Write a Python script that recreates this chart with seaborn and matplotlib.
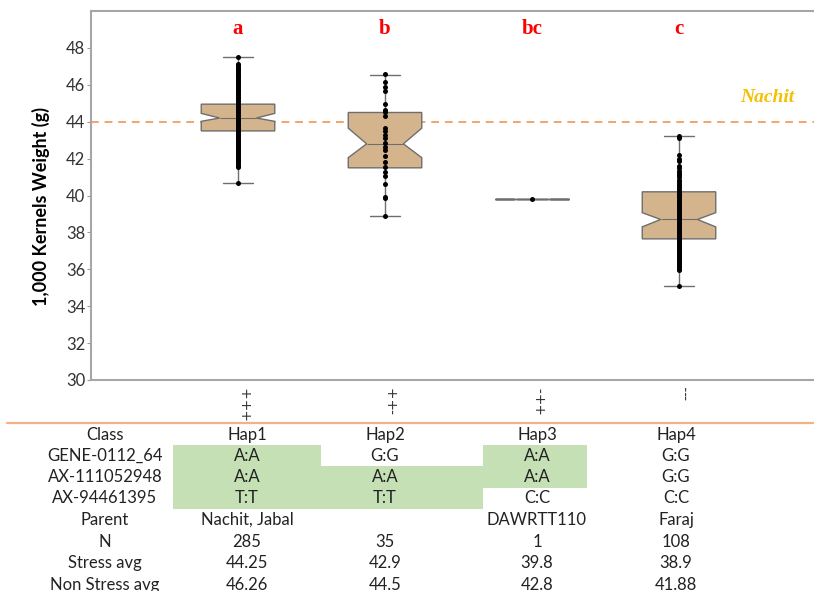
import numpy as np
import pandas as pd
import matplotlib.pyplot as plt
import matplotlib.transforms as mtransforms
from matplotlib.patches import Rectangle
import seaborn as sns

haps = ["Hap1", "Hap2", "Hap3", "Hap4"]
marker_codes = ["+++", "-++", "++-", "---"]
letters = ["a", "b", "bc", "c"]
nachit_ref = 44.0

# box stats
q1 = [43.5, 41.5, 39.8, 37.65]
med = [44.2, 42.8, 39.8, 38.7]
q3 = [44.95, 44.5, 39.8, 40.2]
whislo = [40.7, 38.9, 39.8, 35.1]
whishi = [47.5, 46.55, 39.8, 43.2]
ci_lo = [44.02, 42.05, 39.8, 38.3]
ci_hi = [44.45, 43.65, 39.8, 39.07]

# individual lines (dots)
hap1_pts = [40.68, 41.52, 41.6, 41.68, 41.77, 41.85, 41.93, 42.0, 42.1, 42.18, 42.26,
            42.35, 42.43, 42.5, 42.6, 42.68, 42.75, 42.85, 42.93, 43.0, 43.1, 43.18,
            43.26, 43.35, 43.42, 43.5, 43.58, 43.66, 43.75, 43.83, 43.9, 44.0, 44.08,
            44.15, 44.22, 44.3, 44.38, 44.45, 44.55, 44.62, 44.7, 44.78, 44.86, 44.95,
            45.02, 45.1, 45.2, 45.28, 45.36, 45.45, 45.52, 45.6, 45.7, 45.78, 45.86,
            45.95, 46.03, 46.12, 46.2, 46.28, 46.36, 46.45, 46.52, 46.6, 46.7, 46.78,
            46.86, 46.95, 47.05, 47.12, 47.53]
hap2_pts = [46.56, 46.14, 45.87, 45.69, 44.97, 44.64, 44.5, 44.32, 43.65, 43.47, 43.29,
            43.11, 42.84, 42.65, 42.44, 42.15, 41.84, 41.57, 41.3, 41.03, 40.63, 39.94,
            39.85, 38.91]
hap3_pts = [39.8]
hap4_pts = [35.1, 35.95, 36.03, 36.1, 36.2, 36.28, 36.36, 36.45, 36.52, 36.6, 36.7,
            36.78, 36.85, 36.95, 37.03, 37.1, 37.2, 37.28, 37.35, 37.45, 37.52, 37.6,
            37.7, 37.78, 37.85, 37.95, 38.03, 38.1, 38.2, 38.28, 38.36, 38.45, 38.52,
            38.6, 38.7, 38.78, 38.85, 38.95, 39.03, 39.1, 39.2, 39.28, 39.36, 39.45,
            39.52, 39.6, 39.7, 39.78, 39.85, 39.95, 40.03, 40.1, 40.2, 40.3, 40.4, 40.5,
            40.62, 40.75, 40.85, 41.0, 41.1, 41.2, 41.35, 41.5, 41.62, 41.85, 42.0,
            42.2, 43.1, 43.23]

# table below the plot
row_labels = ["Class", "GENE-0112_64", "AX-111052948", "AX-94461395",
              "Parent", "N", "Stress avg", "Non Stress avg"]
gene_0112 = ["A:A", "G:G", "A:A", "G:G"]
ax_111052948 = ["A:A", "A:A", "A:A", "G:G"]
ax_94461395 = ["T:T", "T:T", "C:C", "C:C"]
parents = ["Nachit, Jabal", "", "DAWRTT110", "Faraj"]
n_lines = ["285", "35", "1", "108"]
stress_avg = ["44.25", "42.9", "39.8", "38.9"]
nonstress_avg = ["46.26", "44.5", "42.8", "41.88"]

sns.set_style("white")
plt.rcParams['font.family'] = ['Lato', 'DejaVu Sans']

df = pd.DataFrame({
    "hap": ["Hap1"] * len(hap1_pts) + ["Hap2"] * len(hap2_pts)
           + ["Hap3"] * len(hap3_pts) + ["Hap4"] * len(hap4_pts),
    "kw": hap1_pts + hap2_pts + hap3_pts + hap4_pts,
})

W, H = 814, 591
fig = plt.figure(figsize=(W / 100, H / 100), dpi=100)

# overlay axes in pixel coords for the table
tab = fig.add_axes([0, 0, 1, 1])
tab.set_xlim(0, W)
tab.set_ylim(H, 0)
tab.axis("off")

ax = fig.add_axes([91 / W, 1 - 380 / H, (W - 91) / W, (380 - 11) / H])

stats = []
for i in range(4):
    stats.append(dict(med=med[i], q1=q1[i], q3=q3[i], whislo=whislo[i],
                      whishi=whishi[i], cilo=ci_lo[i], cihi=ci_hi[i], fliers=[]))
ax.bxp(stats, positions=range(4), widths=0.5, shownotches=True, patch_artist=True,
       showfliers=False, capwidths=0.2,
       boxprops=dict(facecolor="#d4b48c", edgecolor="#6e6e6e", linewidth=1),
       whiskerprops=dict(color="#6e6e6e", linewidth=1),
       capprops=dict(color="#6e6e6e", linewidth=1),
       medianprops=dict(color="#6e6e6e", linewidth=0.8))

sns.stripplot(data=df, x="hap", y="kw", order=haps, jitter=False, color="black",
              size=3.6, linewidth=0, ax=ax, zorder=3)

ax.axhline(nachit_ref, color="#f4a46a", linestyle=(0, (4, 3)), linewidth=1.4, zorder=1)
ax.text(3.6, 45.3, "Nachit", color="#f5c000", fontsize=14, fontweight="bold",
        fontstyle="italic", family="Liberation Serif", ha="center", va="center")

for i, lt in enumerate(letters):
    ax.text(i, 49.0, lt, color="red", fontsize=15, fontweight="bold",
            family="Liberation Serif", ha="center", va="center")

ax.set_xlim(-1, (W - 91) / 147 - 1)
ax.set_ylim(30, 50)
ax.set_yticks(range(30, 49, 2))
ax.tick_params(axis="y", labelsize=12, labelcolor="#333333", length=3, color="#999999",
               left=True, pad=1)
ax.set_xticks(range(4))
ax.set_xticklabels(marker_codes, rotation=90, fontsize=10, family="DejaVu Sans",
                   color="#333333")
ax.tick_params(axis="x", length=0, pad=4)
offset = mtransforms.ScaledTranslation(0.08, 0, fig.dpi_scale_trans)
for lab in ax.get_xticklabels():
    lab.set_transform(lab.get_transform() + offset)
ax.set_xlabel("")
ax.set_ylabel("1,000 Kernels Weight (g)", fontsize=13, fontweight="bold", color="black")
ax.yaxis.set_label_coords(-0.057, 0.47)
for s in ["left", "top", "bottom"]:
    ax.spines[s].set_color("#a6a6a6")
    ax.spines[s].set_linewidth(1.5)
ax.spines["right"].set_visible(False)

# orange separator
tab.plot([7, W], [423, 423], color="#f4b183", linewidth=1.6)

col_x = [247, 385, 537, 676]
col_edges = [173, 321, 483, 587, 765]
row_y = [435, 456, 477, 498, 520, 542, 563, 585]
row_h = 21.3
columns = [haps, gene_0112, ax_111052948, ax_94461395, parents, n_lines,
           stress_avg, nonstress_avg]

# green = same allele as Hap1 (Nachit)
for r, alleles in zip([1, 2, 3], [gene_0112, ax_111052948, ax_94461395]):
    for j in range(4):
        if alleles[j] == alleles[0]:
            tab.add_patch(Rectangle((col_edges[j], row_y[r] - row_h / 2),
                                    col_edges[j + 1] - col_edges[j], row_h,
                                    facecolor="#c5e0b4", edgecolor="none", zorder=0))

for r, (lab, vals) in enumerate(zip(row_labels, columns)):
    tab.text(105, row_y[r], lab, ha="center", va="center", fontsize=12, color="#222222")
    for j in range(4):
        tab.text(col_x[j], row_y[r], vals[j], ha="center", va="center", fontsize=12,
                 color="#222222")

fig.savefig("out.png", dpi=100)
